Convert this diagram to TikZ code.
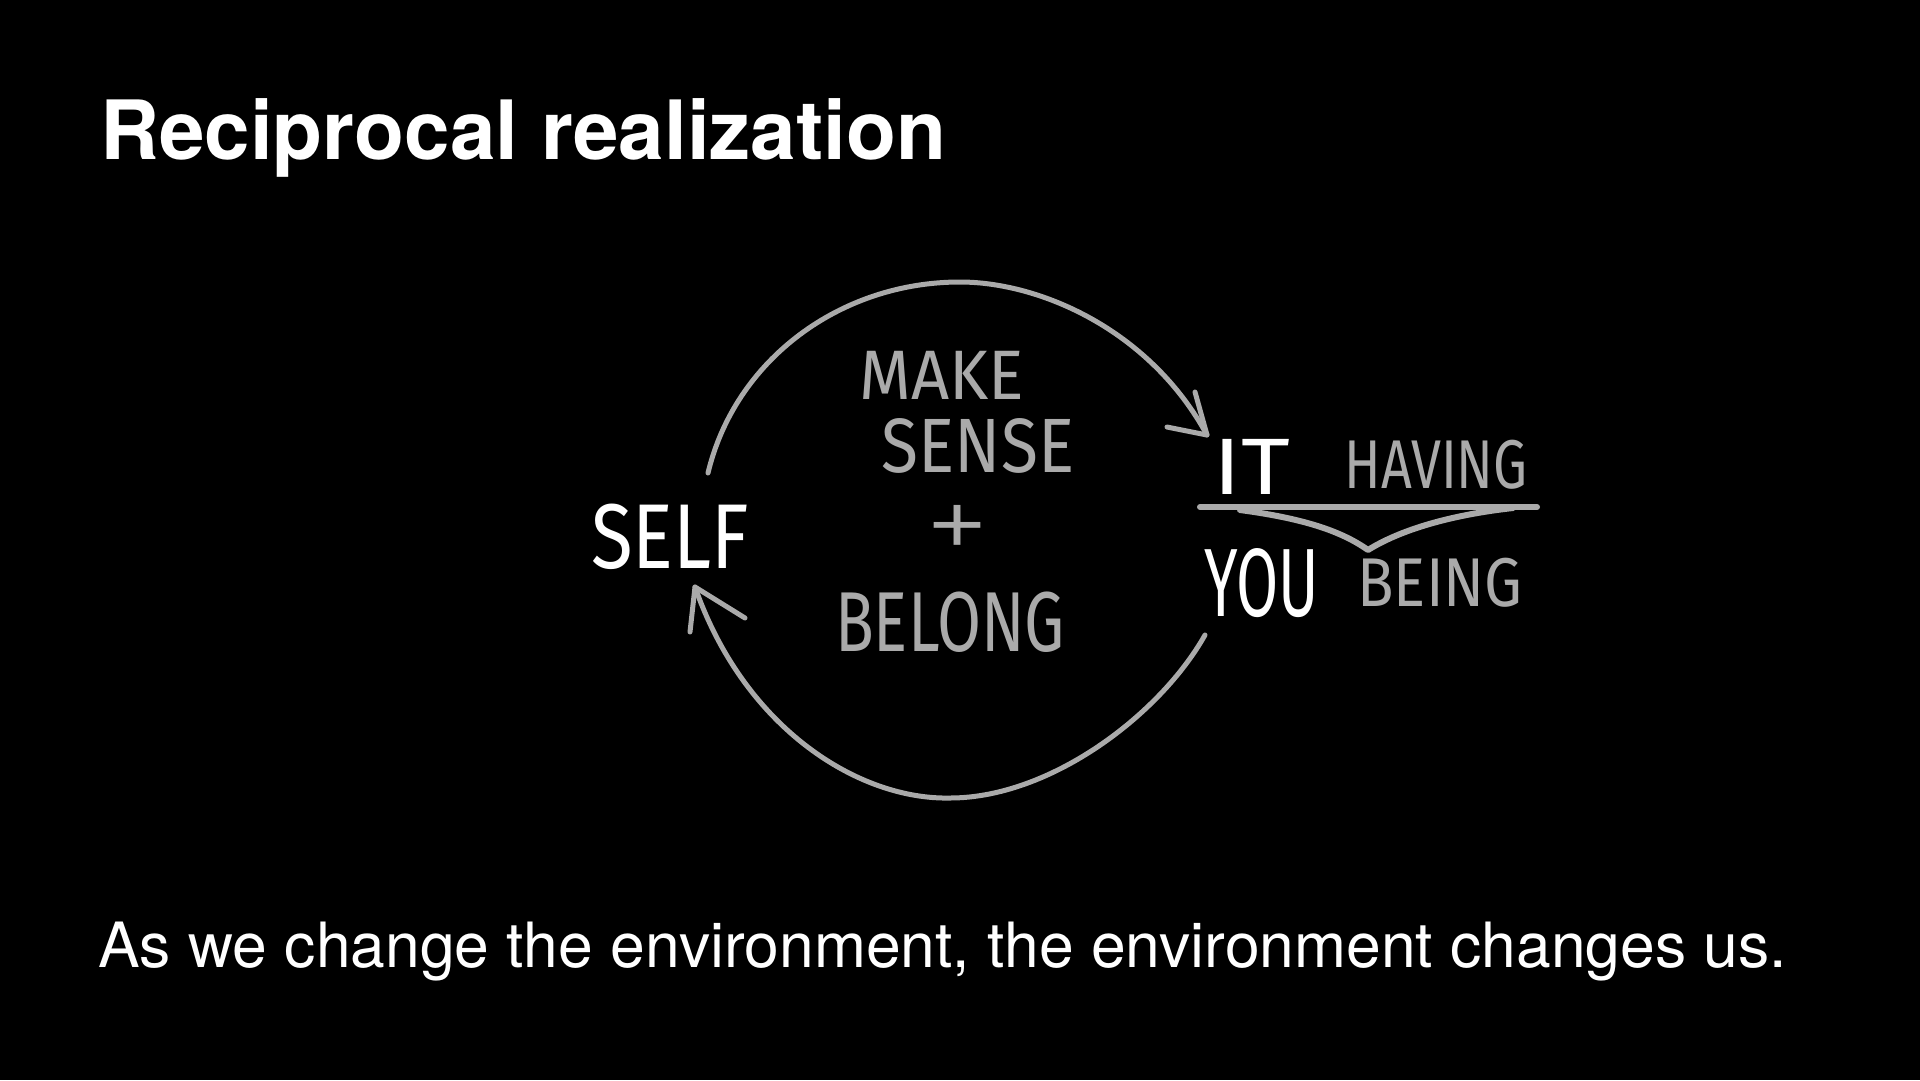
\documentclass[tikz,border=0pt]{standalone}
\usepackage{fontspec}
\setmainfont{TeX Gyre Heros}
\newfontfamily\handfont{Fira Sans}
\newfontfamily\plusfont{Liberation Sans}
\definecolor{chalk}{HTML}{AAAAAA}
\begin{document}
\begin{tikzpicture}[x=1pt,y=-1pt,
  hand/.style={inner sep=0, font=\handfont\fontsize{#1}{#1}\selectfont},
  handw/.style={hand=#1, text=white},
  handg/.style={hand=#1, text=chalk},
  loop/.style={draw=chalk, line width=5pt, line cap=round, line join=round},
  bar/.style={draw=chalk, line width=6pt, line cap=round, line join=round}]
\fill[black] (0,0) rectangle (1920,1080);
\useasboundingbox (0,0) rectangle (1920,1080);

\node[anchor=base west, inner sep=0, text=white,
  font=\bfseries\fontsize{81.8}{90}\selectfont] (title) at (100,159) {Reciprocal realization};
\node[anchor=base west, inner sep=0, text=white,
  font=\fontsize{62.4}{70}\selectfont] (caption) at (98,967)
  {As we change the environment, the environment changes us.};

\node[handw=92, xscale=0.83] (self) at (670,537) {SELF};
\node[handg=70, xscale=0.95] (make) at (942,375) {MAKE};
\node[handg=77, xscale=0.88] (sense) at (978,446) {SENSE};
\node[inner sep=0, text=chalk, font=\plusfont\fontsize{96}{96}\selectfont,
  yscale=0.85] (plus) at (958,529) {+};
\node[handg=85, xscale=0.75] (belong) at (950,622) {BELONG};
\node[handw=80, xscale=1.18] (it) at (1252,467) {IT};
\node[handg=69, xscale=0.78] (having) at (1436,465) {HAVING};
\node[handw=97, xscale=0.63] (you) at (1262,583) {YOU};
\node[handg=69, xscale=0.87] (being) at (1440,583) {BEING};

% top loop: SELF -> IT
\coordinate (topstart) at (708,473);
\coordinate (toptop) at (960,282);
\coordinate (topend) at (1207,435);
\coordinate (topbarbA) at (1195,392);
\coordinate (topbarbB) at (1167,427);
\path[loop] (topstart) .. controls (735,360) and (840,282) .. (toptop)
  .. controls (1040,282) and (1150,330) .. (topend);
\path[loop] (topbarbA) -- (topend) -- (topbarbB);

% bottom loop: YOU -> SELF
\coordinate (botstart) at (1205,635);
\coordinate (botbot) at (950,798);
\coordinate (botend) at (695,587);
\coordinate (botbarbA) at (690,632);
\coordinate (botbarbB) at (745,618);
\path[loop] (botstart) .. controls (1160,715) and (1050,798) .. (botbot)
  .. controls (860,800) and (745,730) .. (botend);
\path[loop] (botbarbA) -- (botend) -- (botbarbB);

% divider and brace
\coordinate (lineL) at (1200,507);
\coordinate (lineR) at (1537,507);
\coordinate (braceL) at (1240,510);
\coordinate (braceM) at (1368,550);
\coordinate (braceR) at (1513,508);
\path[bar] (lineL) -- (lineR);
\path[bar] (braceL) .. controls (1300,518) and (1340,530) .. (braceM)
  .. controls (1400,530) and (1450,515) .. (braceR);
\end{tikzpicture}
\end{document}
